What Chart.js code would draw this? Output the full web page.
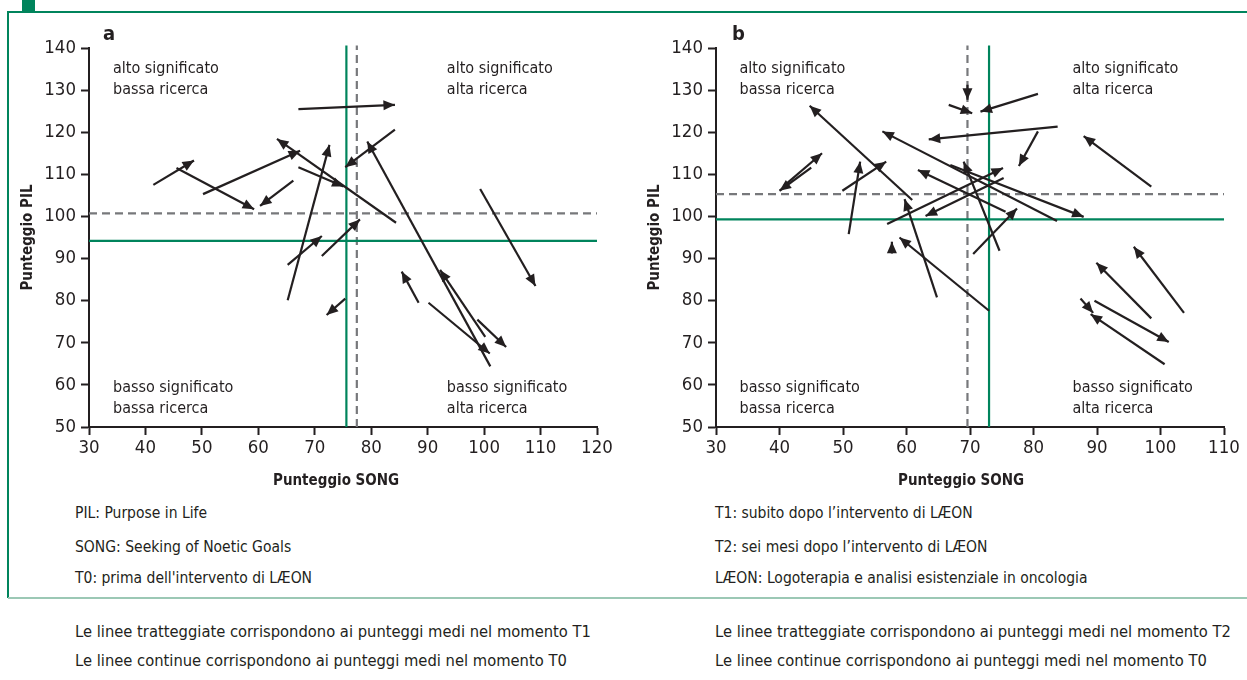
<!DOCTYPE html>
<html>
<head>
<meta charset="utf-8">
<script src="https://cdn.jsdelivr.net/npm/chart.js@4.4.0/dist/chart.umd.min.js"></script>
<style>
  body { margin: 0; width: 1247px; height: 680px; position: relative; background: #fff; overflow: hidden;
         font-family: 'Liberation Sans Narrow', 'DejaVu Sans Condensed', sans-serif; color: #231f20; }
  .rule { position: absolute; background: #00845c; }
  .sep { position: absolute; left: 8px; top: 597px; width: 1239px; height: 2px; background: #9cc8b5; }
  canvas { position: absolute; top: 0; }
  .txt { position: absolute; font-size: 15.5px; line-height: 20px; white-space: nowrap; }
  .big { font-size: 16.4px; }
  .bold { font-weight: bold; font-size: 15px; }
  .letter { position: absolute; font-size: 20px; line-height: 20px; font-weight: bold; }
</style>
</head>
<body>
<div class="rule" style="left:8px;top:11px;width:1239px;height:2px"></div>
<div class="rule" style="left:7px;top:11px;width:2px;height:587px"></div>
<div class="rule" style="left:22px;top:0;width:13px;height:12px"></div>
<div class="sep"></div>

<canvas id="chartA" width="620" height="500" style="left:0"></canvas>
<canvas id="chartB" width="620" height="500" style="left:627px"></canvas>

<div class="letter" style="left:103px;top:23px">a</div>
<div class="letter" style="left:732px;top:23px">b</div>
<div class="txt bold" style="left:273px;top:470px">Punteggio SONG</div>
<div class="txt bold" style="left:898px;top:470px">Punteggio SONG</div>

<div class="txt" style="left:75px;top:503px">PIL: Purpose in Life</div>
<div class="txt" style="left:75px;top:537px">SONG: Seeking of Noetic Goals</div>
<div class="txt" style="left:75px;top:568px">T0: prima dell'intervento di LÆON</div>
<div class="txt" style="left:715px;top:503px">T1: subito dopo l’intervento di LÆON</div>
<div class="txt" style="left:715px;top:537px">T2: sei mesi dopo l’intervento di LÆON</div>
<div class="txt" style="left:715px;top:568px">LÆON: Logoterapia e analisi esistenziale in oncologia</div>

<div class="txt big" style="left:75px;top:622px">Le linee tratteggiate corrispondono ai punteggi medi nel momento T1</div>
<div class="txt big" style="left:75px;top:651px">Le linee continue corrispondono ai punteggi medi nel momento T0</div>
<div class="txt big" style="left:715px;top:622px">Le linee tratteggiate corrispondono ai punteggi medi nel momento T2</div>
<div class="txt big" style="left:715px;top:651px">Le linee continue corrispondono ai punteggi medi nel momento T0</div>

<script>
const FONT = "'Liberation Sans Narrow', 'DejaVu Sans Condensed', sans-serif";
const INK = '#231f20';
const GREEN = '#00845c';
const GREY = '#77787b';

// tick labels
const yTicks = [50, 60, 70, 80, 90, 100, 110, 120, 130, 140];
const xTicksA = [30, 40, 50, 60, 70, 80, 90, 100, 110, 120];
const xTicksB = [30, 40, 50, 60, 70, 80, 90, 100, 110];

// mean scores [SONG, PIL]
const meanT0A = [75.6, 94.2];
const meanT1A = [77.45, 100.75];
const meanT0B = [73.0, 99.3];
const meanT2B = [69.6, 105.3];

// arrows: [SONG start, PIL start, SONG end, PIL end]  (panel a: T0 -> T1)
const arrowsA = [
  [41.4, 107.5, 48.6, 113.3],
  [45.5, 111.5, 59.25, 101.7],
  [50.2, 105.3, 67.4, 115.6],
  [66.2, 108.5, 60.3, 102.5],
  [84.4, 98.5, 63.3, 118.4],
  [67.1, 111.7, 75.1, 107.1],
  [65.2, 80.1, 72.6, 117.0],
  [65.2, 88.5, 71.25, 95.35],
  [71.25, 90.6, 78.0, 99.3],
  [75.4, 80.5, 72.1, 76.6],
  [67.1, 125.5, 84.2, 126.5],
  [84.2, 120.6, 75.4, 111.7],
  [101.1, 64.4, 79.3, 117.8],
  [100.2, 71.4, 92.2, 87.3],
  [88.4, 79.5, 85.4, 86.9],
  [90.15, 79.5, 101.0, 67.45],
  [98.8, 75.5, 103.9, 69.0],
  [99.3, 106.5, 109.1, 83.5]
];

// panel b: T1 -> T2
const arrowsB = [
  [45.0, 111.6, 40.0, 106.1],
  [40.65, 107.2, 46.7, 115.0],
  [60.9, 103.9, 44.75, 126.3],
  [49.9, 106.1, 56.8, 113.0],
  [50.9, 95.8, 52.7, 113.0],
  [64.8, 80.8, 59.7, 104.1],
  [73.0, 77.6, 58.9, 95.0],
  [57.7, 91.2, 57.7, 94.0],
  [56.95, 98.2, 75.2, 111.5],
  [83.7, 98.9, 56.2, 120.2],
  [75.6, 101.1, 61.8, 111.05],
  [74.65, 91.85, 69.0, 113.0],
  [75.3, 109.15, 63.0, 100.1],
  [70.5, 91.1, 77.4, 101.9],
  [80.7, 129.1, 71.65, 124.9],
  [66.65, 126.5, 70.35, 124.5],
  [69.6, 131.3, 69.6, 127.7],
  [83.8, 121.35, 63.5, 118.3],
  [80.7, 120.2, 77.7, 112.0],
  [98.55, 107.1, 87.9, 119.1],
  [66.9, 112.2, 87.9, 99.9],
  [103.7, 77.1, 95.8, 92.8],
  [98.55, 75.8, 89.9, 89.0],
  [89.6, 80.0, 101.3, 70.2],
  [87.4, 80.5, 89.4, 77.1],
  [100.65, 64.9, 89.0, 76.8]
];

const quadTop = ['alto significato', 'bassa ricerca', 'alta ricerca'];
const quadBottom = ['basso significato', 'bassa ricerca', 'alta ricerca'];

// arrowheads at the end point of every arrow dataset
const arrowHeads = {
  id: 'arrowHeads',
  afterDatasetsDraw(chart) {
    const ctx = chart.ctx;
    chart.data.datasets.forEach((ds, i) => {
      if (!ds.arrow) return;
      const pts = chart.getDatasetMeta(i).data;
      const a = pts[0], b = pts[1];
      const ang = Math.atan2(b.y - a.y, b.x - a.x);
      const len = 11.5, half = 5;
      ctx.save();
      ctx.translate(b.x, b.y);
      ctx.rotate(ang);
      ctx.fillStyle = INK;
      ctx.beginPath();
      ctx.moveTo(0, 0);
      ctx.lineTo(-len, -half);
      ctx.lineTo(-len, half);
      ctx.closePath();
      ctx.fill();
      ctx.restore();
    });
  }
};

// quadrant captions, anchored in data coordinates
const quadLabels = {
  id: 'quadLabels',
  afterDraw(chart, args, opts) {
    const ctx = chart.ctx;
    const xs = chart.scales.x, ys = chart.scales.y;
    ctx.save();
    ctx.font = '16px ' + FONT;
    ctx.fillStyle = INK;
    ctx.textAlign = 'left';
    ctx.textBaseline = 'alphabetic';
    opts.items.forEach(it => {
      const px = xs.getPixelForValue(it.x);
      const py = ys.getPixelForValue(it.y);
      it.lines.forEach((t, k) => ctx.fillText(t, px, py + k * 21));
    });
    ctx.restore();
  }
};

function makePanel(id, xTicks, xMax, arrows, meanSolid, meanDash, labelX) {
  const datasets = arrows.map(a => ({
    data: [{ x: a[0], y: a[1] }, { x: a[2], y: a[3] }],
    borderColor: INK,
    borderWidth: 2.2,
    pointRadius: 0,
    showLine: true,
    arrow: true,
    order: 1
  }));
  const meanLine = (m, color, dash) => [
    { data: [{ x: m[0], y: 50 }, { x: m[0], y: 140.6 }], borderColor: color, borderWidth: 2.2,
      borderDash: dash, pointRadius: 0, showLine: true, clip: false, order: 2 },
    { data: [{ x: 30, y: m[1] }, { x: xMax, y: m[1] }], borderColor: color, borderWidth: 2.2,
      borderDash: dash, pointRadius: 0, showLine: true, clip: false, order: 2 }
  ];
  datasets.push(...meanLine(meanSolid, GREEN, []));
  datasets.push(...meanLine(meanDash, GREY, [8, 5]));

  const axisCommon = {
    type: 'linear',
    grid: { drawOnChartArea: false, drawTicks: true, tickLength: 8, tickColor: INK, tickWidth: 2 },
    border: { display: true, color: INK, width: 2 },
    ticks: { color: INK, font: { family: FONT, size: 18.5 } }
  };

  new Chart(document.getElementById(id), {
    type: 'scatter',
    data: { datasets },
    options: {
      responsive: false,
      animation: false,
      devicePixelRatio: 1,
      layout: { padding: { top: 48, right: 23, left: 0, bottom: 0 } },
      plugins: {
        legend: { display: false },
        tooltip: { enabled: false },
        quadLabels: {
          items: [
            { x: labelX[0], y: 134.05, lines: [quadTop[0], quadTop[1]] },
            { x: labelX[1], y: 134.05, lines: [quadTop[0], quadTop[2]] },
            { x: labelX[0], y: 58.2, lines: [quadBottom[0], quadBottom[1]] },
            { x: labelX[1], y: 58.2, lines: [quadBottom[0], quadBottom[2]] }
          ]
        }
      },
      scales: {
        x: Object.assign({}, axisCommon, {
          min: 30, max: xMax,
          ticks: Object.assign({}, axisCommon.ticks, { padding: 2 }),
          afterBuildTicks: s => { s.ticks = xTicks.map(v => ({ value: v })); },
          afterFit: s => { s.height = 73; }
        }),
        y: Object.assign({}, axisCommon, {
          min: 50, max: 140,
          ticks: Object.assign({}, axisCommon.ticks, { padding: 5 }),
          afterBuildTicks: s => { s.ticks = yTicks.map(v => ({ value: v })); },
          afterFit: s => { s.width = 89; },
          title: { display: true, text: 'Punteggio PIL', color: INK,
                   font: { family: FONT, size: 15, weight: 'bold' }, padding: { top: 19, bottom: 0 } }
        })
      }
    },
    plugins: [arrowHeads, quadLabels]
  });
}

makePanel('chartA', xTicksA, 120, arrowsA, meanT0A, meanT1A, [34.25, 93.4]);
makePanel('chartB', xTicksB, 110, arrowsB, meanT0B, meanT2B, [33.7, 86.15]);
</script>
</body>
</html>
